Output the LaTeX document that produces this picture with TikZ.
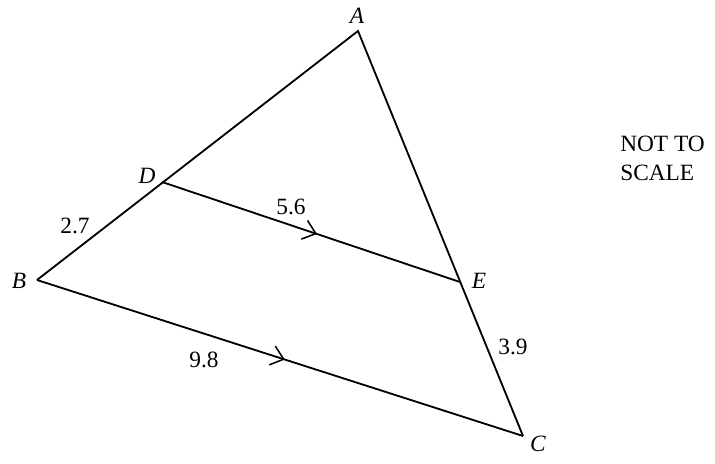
\documentclass[tikz,border=0pt]{standalone}
\usepackage{fontspec}
\setmainfont{Liberation Serif}
\usetikzlibrary{arrows.meta,decorations.markings}
\begin{document}
\begin{tikzpicture}[x=0.025cm,y=-0.025cm,
lado/.style={line width=1.3pt,line join=miter},
paralela/.style={lado,decoration={markings,
mark=at position #1 with {\arrow{Straight Barb[length=8.5pt,width=14pt,line width=1.1pt]}}},
postaction={decorate}},
rotulo/.style={font=\fontsize{16.6}{20.5}\selectfont,inner sep=0pt}
]
\useasboundingbox (0,0) rectangle (715,464);

% vertices
\coordinate (A) at (358,31);
\coordinate (B) at (37,280);
\coordinate (C) at (523,436);
\coordinate (D) at (162,182);
\coordinate (E) at (460,282);

% triangulo
\draw[lado] (B) -- (A) -- (C);
\draw[paralela=0.52] (D) -- (E);
\draw[paralela=0.51] (B) -- (C);

% rotulos
\node[rotulo] (lA) at (357,16) {\textit{A}};
\node[rotulo] (lB) at (19,281) {\textit{B}};
\node[rotulo] (lC) at (538,444) {\textit{C}};
\node[rotulo] (lD) at (147,176) {\textit{D}};
\node[rotulo] (lE) at (479,281) {\textit{E}};
\node[rotulo] (dDE) at (291,207) {5.6};
\node[rotulo] (dBD) at (75,226) {2.7};
\node[rotulo] (dBC) at (204,360) {9.8};
\node[rotulo] (dEC) at (513,347) {3.9};
\node[rotulo,anchor=west,align=left] (escala) at (620,158) {NOT TO\\SCALE};

\end{tikzpicture}
\end{document}
